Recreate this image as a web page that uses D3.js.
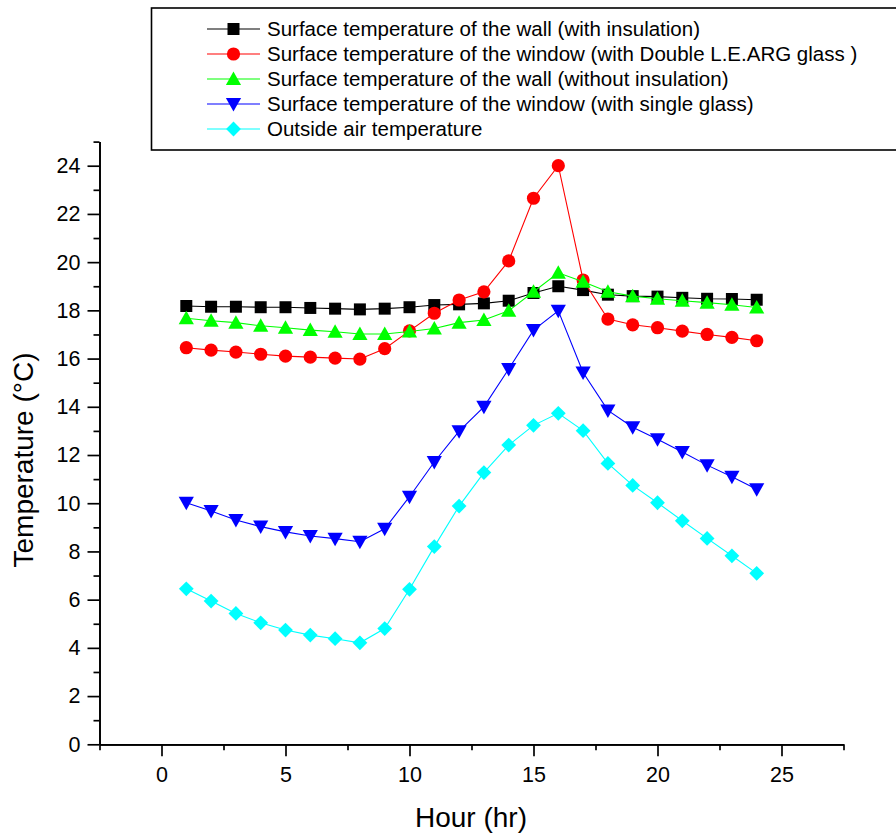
<!DOCTYPE html>
<html>
<head>
<meta charset="utf-8">
<script src="https://cdn.jsdelivr.net/npm/d3@7"></script>
<style>
  html, body { margin: 0; padding: 0; background: #fff; }
  svg { display: block; font-family: "Liberation Sans", Arial, sans-serif; }
</style>
</head>
<body>
<svg id="chart" width="896" height="836"></svg>
<script>
// Hourly surface and air temperatures over one day
const hours = [1, 2, 3, 4, 5, 6, 7, 8, 9, 10, 11, 12, 13, 14, 15, 16, 17, 18, 19, 20, 21, 22, 23, 24];

const wallInsulated   = [18.18, 18.15, 18.15, 18.13, 18.13, 18.10, 18.07, 18.04, 18.07, 18.13, 18.22, 18.25,
                         18.29, 18.40, 18.72, 19.00, 18.84, 18.65, 18.59, 18.57, 18.52, 18.48, 18.47, 18.44];
const windowDouble    = [16.45, 16.35, 16.27, 16.18, 16.10, 16.06, 16.02, 15.98, 16.41, 17.15, 17.88, 18.43,
                         18.77, 20.05, 22.65, 24.00, 19.26, 17.64, 17.40, 17.28, 17.14, 17.00, 16.88, 16.74];
const wallUninsulated = [17.67, 17.57, 17.49, 17.36, 17.28, 17.18, 17.11, 17.02, 17.02, 17.12, 17.25, 17.49,
                         17.60, 17.98, 18.77, 19.56, 19.19, 18.77, 18.59, 18.48, 18.40, 18.32, 18.23, 18.12];
const windowSingle    = [10.02, 9.68, 9.30, 9.03, 8.81, 8.64, 8.53, 8.40, 8.94, 10.27, 11.71, 12.99,
                         14.00, 15.57, 17.18, 17.98, 15.42, 13.85, 13.15, 12.65, 12.12, 11.58, 11.10, 10.58];
const outsideAir      = [6.45, 5.94, 5.43, 5.04, 4.74, 4.53, 4.38, 4.21, 4.80, 6.43, 8.20, 9.88,
                         11.27, 12.41, 13.23, 13.73, 13.01, 11.65, 10.74, 10.02, 9.27, 8.54, 7.82, 7.09];

const seriesNames = [
  "Surface temperature of the wall (with insulation)",
  "Surface temperature of the window (with Double L.E.ARG glass )",
  "Surface temperature of the wall (without insulation)",
  "Surface temperature of the window (with single glass)",
  "Outside air temperature"
];
const seriesValues = [wallInsulated, windowDouble, wallUninsulated, windowSingle, outsideAir];
const seriesColors = ["#000000", "#ff0000", "#00ff00", "#0000ff", "#00ffff"];
const seriesSymbols = ["square", "circle", "triangleUp", "triangleDown", "diamond"];

const xMajorTicks = [0, 5, 10, 15, 20, 25];
const xMinorTicks = [-2.5, 2.5, 7.5, 12.5, 17.5, 22.5, 27.5];
const yMajorTicks = [0, 2, 4, 6, 8, 10, 12, 14, 16, 18, 20, 22, 24];
const yMinorTicks = [1, 3, 5, 7, 9, 11, 13, 15, 17, 19, 21, 23, 25];

const svg = d3.select("#chart");

const x = d3.scaleLinear().domain([-2.5, 27.5]).range([99.5, 843.5]);
const y = d3.scaleLinear().domain([0, 25]).range([744.3, 141.6]);

// Marker shapes centred on (0,0)
function symbolPath(kind) {
  switch (kind) {
    case "square":       return "M-6,-6H6V6H-6Z";
    case "circle":       return "M6.6,0A6.6,6.6 0 1,1 -6.6,0A6.6,6.6 0 1,1 6.6,0Z";
    case "triangleUp":   return "M0,-7.5L7.6,6L-7.6,6Z";
    case "triangleDown": return "M0,7.5L7.6,-6L-7.6,-6Z";
    case "diamond":      return "M0,-7.4L7.4,0L0,7.4L-7.4,0Z";
  }
}

// Axes
const axisStyle = g => {
  g.selectAll("path.domain").attr("stroke", "#000").attr("stroke-width", 1.7);
  g.selectAll(".tick line").attr("stroke", "#000").attr("stroke-width", 1.7);
  g.selectAll(".tick text").attr("fill", "#000")
    .style("font-family", "'Liberation Sans', Arial, sans-serif").style("font-size", "21.5px");
};

svg.append("g")
  .attr("transform", `translate(0,${y(0)})`)
  .call(d3.axisBottom(x).tickValues(xMinorTicks).tickSize(6).tickFormat("").tickSizeOuter(0))
  .call(axisStyle);
svg.append("g")
  .attr("transform", `translate(0,${y(0)})`)
  .call(d3.axisBottom(x).tickValues(xMajorTicks).tickSize(12).tickPadding(10).tickSizeOuter(0))
  .call(axisStyle);

svg.append("g")
  .attr("transform", `translate(${x(-2.5)},0)`)
  .call(d3.axisLeft(y).tickValues(yMinorTicks).tickSize(6).tickFormat("").tickSizeOuter(0))
  .call(axisStyle);
svg.append("g")
  .attr("transform", `translate(${x(-2.5)},0)`)
  .call(d3.axisLeft(y).tickValues(yMajorTicks).tickSize(12).tickPadding(7).tickSizeOuter(0))
  .call(axisStyle);

// Axis titles
svg.append("text")
  .attr("transform", "translate(33,460) rotate(-90)")
  .attr("text-anchor", "middle")
  .style("font-size", "28px")
  .text("Temperature (°C)");

svg.append("text")
  .attr("x", 471).attr("y", 827)
  .attr("text-anchor", "middle")
  .style("font-size", "28px")
  .text("Hour (hr)");

// Series lines and markers
const line = d3.line().x(d => x(d[0])).y(d => y(d[1]));

seriesValues.forEach((vals, i) => {
  const pts = hours.map((h, j) => [h, vals[j]]);
  const g = svg.append("g");
  g.append("path")
    .datum(pts)
    .attr("d", line)
    .attr("fill", "none")
    .attr("stroke", seriesColors[i])
    .attr("stroke-width", 1.1);
  g.selectAll("path.mk")
    .data(pts)
    .join("path")
    .attr("class", "mk")
    .attr("transform", d => `translate(${x(d[0])},${y(d[1])})`)
    .attr("d", symbolPath(seriesSymbols[i]))
    .attr("fill", seriesColors[i]);
});

// Legend
const legend = svg.append("g");
legend.append("rect")
  .attr("x", 151.5).attr("y", 8)
  .attr("width", 760).attr("height", 142)
  .attr("fill", "#fff")
  .attr("stroke", "#000")
  .attr("stroke-width", 1.6);

seriesNames.forEach((name, i) => {
  const ry = 29 + i * 25;
  const row = legend.append("g");
  row.append("line")
    .attr("x1", 207).attr("x2", 260)
    .attr("y1", ry).attr("y2", ry)
    .attr("stroke", seriesColors[i])
    .attr("stroke-width", 1.1);
  row.append("path")
    .attr("transform", `translate(233.5,${ry})`)
    .attr("d", symbolPath(seriesSymbols[i]))
    .attr("fill", seriesColors[i]);
  row.append("text")
    .attr("x", 267).attr("y", ry + 7)
    .style("font-size", "20.5px")
    .text(name);
});
</script>
</body>
</html>
